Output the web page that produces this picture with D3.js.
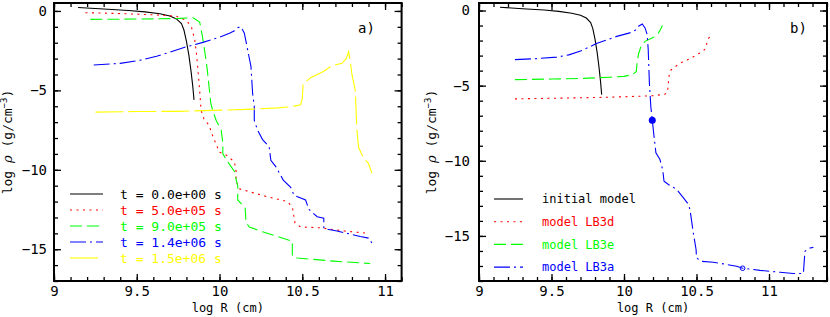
<!DOCTYPE html>
<html>
<head>
<meta charset="utf-8">
<script src="https://cdn.jsdelivr.net/npm/d3@7"></script>
<style>
  body { margin: 0; background: #fff; }
  svg { display: block; font-family: 'DejaVu Sans Mono', monospace; }
</style>
</head>
<body>
<div class="container"></div>
<script>
// panel a) density profiles at several times: [log R, log rho]
const aT0 = [[9.145,0.22],[9.3,0.12],[9.45,0.03],[9.55,-0.06],[9.64,-0.18],[9.70,-0.32],[9.74,-0.5],[9.77,-0.8],[9.785,-1.2],[9.80,-1.9],[9.815,-2.8],[9.828,-3.8],[9.838,-4.7],[9.846,-5.6]];
const aT1 = [[9.19,-0.11],[9.35,-0.15],[9.5,-0.2],[9.65,-0.27],[9.74,-0.33],[9.8,-0.6],[9.83,-1.0],[9.85,-1.8],[9.862,-2.8],[9.872,-4.0],[9.88,-5.0],[9.886,-5.9],[9.89,-6.3],[9.906,-6.8],[9.937,-7.2],[9.96,-7.9],[10.0,-8.9],[10.04,-9.07],[10.09,-9.5],[10.1,-10.1],[10.1,-10.7],[10.12,-11.2],[10.29,-11.7],[10.41,-12.0],[10.44,-12.35],[10.456,-13.35],[10.49,-13.6],[10.61,-13.65],[10.75,-13.85],[10.9,-14.0]];
const aT2 = [[9.22,-0.53],[9.4,-0.52],[9.6,-0.5],[9.76,-0.47],[9.84,-0.43],[9.88,-0.7],[9.895,-1.5],[9.91,-2.5],[9.925,-3.6],[9.935,-4.6],[9.947,-5.8],[9.96,-6.3],[9.98,-6.9],[10.01,-7.5],[10.02,-8.3],[10.02,-9.0],[10.05,-9.5],[10.09,-10.1],[10.1,-10.6],[10.11,-11.0],[10.11,-11.9],[10.155,-12.4],[10.16,-13.3],[10.18,-13.6],[10.26,-13.9],[10.44,-14.5],[10.44,-15.45],[10.47,-15.55],[10.69,-15.75],[10.91,-15.9]];
const aT3 = [[9.24,-3.4],[9.4,-3.3],[9.52,-3.1],[9.62,-2.85],[9.7,-2.6],[9.8,-2.25],[9.9,-1.98],[10.0,-1.65],[10.06,-1.4],[10.09,-1.25],[10.11,-1.05],[10.13,-1.0],[10.15,-1.4],[10.17,-2.46],[10.19,-3.5],[10.2,-5.2],[10.21,-6.0],[10.21,-6.9],[10.23,-7.5],[10.26,-8.1],[10.3,-8.55],[10.31,-9.4],[10.34,-9.8],[10.385,-10.65],[10.43,-11.1],[10.45,-11.6],[10.52,-11.9],[10.54,-12.5],[10.59,-12.95],[10.63,-13.05],[10.63,-13.7],[10.71,-13.85],[10.85,-14.2],[10.9,-14.3],[10.92,-14.6]];
const aT4 = [[9.25,-6.37],[9.5,-6.33],[9.76,-6.32],[9.96,-6.26],[10.2,-6.18],[10.35,-6.1],[10.44,-6.02],[10.49,-5.9],[10.5,-5.5],[10.505,-4.6],[10.55,-4.2],[10.625,-3.83],[10.68,-3.45],[10.74,-3.3],[10.765,-3.0],[10.78,-2.57],[10.79,-3.2],[10.8,-4.0],[10.82,-5.0],[10.83,-7.5],[10.84,-8.6],[10.87,-9.25],[10.9,-9.6],[10.92,-10.2]];
const aLabels = ['t = 0.0e+00 s', 't = 5.0e+05 s', 't = 9.0e+05 s', 't = 1.4e+06 s', 't = 1.5e+06 s'];

// panel b) models
const bInit = aT0;
const bLB3d = [[9.248,-5.88],[9.5,-5.84],[9.75,-5.8],[9.9,-5.77],[10.09,-5.71],[10.2,-5.67],[10.28,-5.58],[10.3,-5.45],[10.31,-4.4],[10.32,-4.0],[10.34,-3.82],[10.41,-3.38],[10.46,-3.2],[10.5,-2.93],[10.54,-2.75],[10.56,-2.55],[10.58,-1.9],[10.593,-1.72]];
const bLB3e = [[9.248,-4.6],[9.5,-4.56],[9.7,-4.52],[9.9,-4.44],[10.0,-4.38],[10.06,-4.26],[10.085,-4.05],[10.09,-3.5],[10.1,-2.9],[10.115,-2.45],[10.145,-2.05],[10.2,-1.8],[10.237,-1.5],[10.255,-1.2],[10.265,-1.0]];
const bLB3a = [[9.248,-3.27],[9.4,-3.2],[9.536,-3.1],[9.62,-2.95],[9.7,-2.7],[9.81,-2.2],[9.95,-1.72],[10.04,-1.49],[10.08,-1.3],[10.1,-1.05],[10.126,-0.9],[10.145,-1.16],[10.16,-1.6],[10.167,-2.6],[10.175,-4.8],[10.185,-6.4],[10.195,-7.3],[10.207,-8.37],[10.22,-9.47],[10.248,-9.92],[10.267,-10.6],[10.276,-11.36],[10.306,-11.58],[10.363,-11.9],[10.41,-12.47],[10.444,-12.9],[10.455,-13.24],[10.478,-14.8],[10.497,-15.9],[10.5,-16.46],[10.535,-16.69],[10.616,-16.75],[10.685,-16.86],[10.777,-17.02],[10.818,-17.15],[10.938,-17.29],[11.076,-17.42],[11.168,-17.5],[11.237,-17.5],[11.248,-16.02],[11.283,-15.8],[11.306,-15.76]];
const bMarkFilled = [10.195, -7.3];
const bMarkOpen = [10.818, -17.15];
const bLabels = ['initial model', 'model LB3d', 'model LB3e', 'model LB3a'];

const xMajor = [9, 9.5, 10, 10.5, 11];
const yMajor = [0, -5, -10, -15];

const w = 830;
const h = 317;

const colors = ['#000000', '#ff0000', '#00ff00', '#0000ff', '#ffff00'];
const dashes = [null, '2,4.5', '12,5', '16,4,2,4', '28,5'];

const svg = d3
  .select('.container')
  .append('svg')
  .attr('width', w)
  .attr('height', h);

const drawPanel = (cfg) => {
  const x = d3.scaleLinear().domain(cfg.xDomain).range([cfg.left, cfg.right]);
  const y = d3.scaleLinear().domain(cfg.yDomain).range([cfg.bottom, cfg.top]);
  const g = svg.append('g');

  const clipId = 'clip-' + cfg.name;
  g.append('clipPath')
    .attr('id', clipId)
    .append('rect')
    .attr('x', cfg.left)
    .attr('y', cfg.top)
    .attr('width', cfg.right - cfg.left)
    .attr('height', cfg.bottom - cfg.top);

  const xMinor = d3.range(cfg.xDomain[0], cfg.xDomain[1] + 1e-9, 0.1).map((v) => +v.toFixed(1));
  const yMinor = d3.range(Math.ceil(cfg.yDomain[0]), cfg.yDomain[1] + 1e-9, 1);

  // minor ticks on all four sides (inward)
  const tickFmt = () => '';
  g.append('g')
    .attr('transform', 'translate(0,' + cfg.bottom + ')')
    .call(d3.axisBottom(x).tickValues(xMinor).tickSize(-4).tickFormat(tickFmt));
  g.append('g')
    .attr('transform', 'translate(0,' + cfg.top + ')')
    .call(d3.axisTop(x).tickValues(xMinor).tickSize(-4).tickFormat(tickFmt));
  g.append('g')
    .attr('transform', 'translate(' + cfg.left + ',0)')
    .call(d3.axisLeft(y).tickValues(yMinor).tickSize(-4).tickFormat(tickFmt));
  g.append('g')
    .attr('transform', 'translate(' + cfg.right + ',0)')
    .call(d3.axisRight(y).tickValues(yMinor).tickSize(-4).tickFormat(tickFmt));

  // major ticks with labels
  g.append('g')
    .attr('class', 'major')
    .attr('transform', 'translate(0,' + cfg.bottom + ')')
    .call(d3.axisBottom(x).tickValues(xMajor).tickSize(-7).tickPadding(5).tickFormat((d) => String(d)));
  g.append('g')
    .attr('transform', 'translate(0,' + cfg.top + ')')
    .call(d3.axisTop(x).tickValues(xMajor).tickSize(-7).tickFormat(tickFmt));
  g.append('g')
    .attr('class', 'major')
    .attr('transform', 'translate(' + cfg.left + ',0)')
    .call(d3.axisLeft(y).tickValues(yMajor).tickSize(-7).tickPadding(cfg.yPad).tickFormat((d) => String(d).replace('-', '\u2212')));
  g.append('g')
    .attr('transform', 'translate(' + cfg.right + ',0)')
    .call(d3.axisRight(y).tickValues(yMajor).tickSize(-7).tickFormat(tickFmt));

  g.selectAll('.domain').remove();
  g.selectAll('.tick line').attr('stroke', '#000').attr('stroke-width', 1.3);
  g.selectAll('.major text')
    .attr('fill', '#000')
    .style('font-family', "'DejaVu Sans Mono', monospace")
    .style('font-size', '14px');

  const line = d3
    .line()
    .x((d) => x(d[0]))
    .y((d) => y(d[1]));

  const plot = g.append('g').attr('clip-path', 'url(#' + clipId + ')');
  cfg.series.forEach((s) => {
    plot
      .append('path')
      .datum(s.data)
      .attr('fill', 'none')
      .attr('stroke', colors[s.style])
      .attr('stroke-width', 1.1)
      .attr('stroke-dasharray', dashes[s.style])
      .attr('d', line);
  });

  if (cfg.markers) {
    plot
      .append('circle')
      .attr('cx', x(cfg.markers.filled[0]))
      .attr('cy', y(cfg.markers.filled[1]))
      .attr('r', 3.5)
      .attr('fill', '#0000ff');
    plot
      .append('circle')
      .attr('cx', x(cfg.markers.open[0]))
      .attr('cy', y(cfg.markers.open[1]))
      .attr('r', 2.3)
      .attr('fill', 'none')
      .attr('stroke', '#0000ff')
      .attr('stroke-width', 1);
  }

  // frame
  g.append('rect')
    .attr('x', cfg.left)
    .attr('y', cfg.top)
    .attr('width', cfg.right - cfg.left)
    .attr('height', cfg.bottom - cfg.top)
    .attr('fill', 'none')
    .attr('stroke', '#000')
    .attr('stroke-width', 2);

  // legend
  cfg.series.forEach((s, i) => {
    const ly = cfg.legend.y0 + i * cfg.legend.dy;
    g.append('line')
      .attr('x1', cfg.legend.x1)
      .attr('x2', cfg.legend.x2)
      .attr('y1', ly)
      .attr('y2', ly)
      .attr('stroke', colors[s.style])
      .attr('stroke-width', 1.1)
      .attr('stroke-dasharray', dashes[s.style]);
    g.append('text')
      .attr('x', cfg.legend.tx)
      .attr('y', ly)
      .attr('dy', '0.35em')
      .style('font-size', cfg.legend.size)
      .style('white-space', 'pre')
      .attr('fill', colors[s.style])
      .text(cfg.labels[i]);
  });

  // panel tag
  g.append('text')
    .attr('x', cfg.tag.x)
    .attr('y', 33)
    .style('font-size', '14px')
    .text(cfg.tag.text);

  // axis titles
  g.append('text')
    .attr('x', (cfg.left + cfg.right) / 2)
    .attr('y', 312)
    .attr('text-anchor', 'middle')
    .style('font-size', '12px')
    .text('log R (cm)');

  const yt = g
    .append('text')
    .attr('transform', 'translate(' + cfg.yTitleX + ',' + (cfg.top + cfg.bottom) / 2 + ') rotate(-90)')
    .attr('text-anchor', 'middle')
    .style('font-size', '13px');
  yt.append('tspan').text('log ');
  yt.append('tspan').style('font-family', "'DejaVu Serif', serif").style('font-style', 'italic').text('\u03c1');
  yt.append('tspan').text(' (g/cm');
  yt.append('tspan').attr('dy', -5).style('font-size', '9px').text('\u22123');
  yt.append('tspan').attr('dy', 5).text(')');
};

drawPanel({
  name: 'a',
  xDomain: [9, 11.1],
  yDomain: [-17, 0.5],
  left: 54,
  right: 401.6,
  top: 3,
  bottom: 281,
  yPad: 7,
  yTitleX: 12,
  series: [
    { data: aT0, style: 0 },
    { data: aT1, style: 1 },
    { data: aT2, style: 2 },
    { data: aT3, style: 3 },
    { data: aT4, style: 4 }
  ],
  labels: aLabels,
  legend: { x1: 70, x2: 103, tx: 120, y0: 194, dy: 16, size: '13px' },
  tag: { x: 358, text: 'a)' }
});

drawPanel({
  name: 'b',
  xDomain: [9, 11.4],
  yDomain: [-18, 0.5],
  left: 479,
  right: 827,
  top: 3,
  bottom: 281,
  yPad: 9,
  yTitleX: 436,
  series: [
    { data: bInit, style: 0 },
    { data: bLB3d, style: 1 },
    { data: bLB3e, style: 2 },
    { data: bLB3a, style: 3 }
  ],
  labels: bLabels,
  legend: { x1: 494, x2: 523, tx: 542, y0: 199, dy: 22.7, size: '12px' },
  markers: { filled: bMarkFilled, open: bMarkOpen },
  tag: { x: 790, text: 'b)' }
});
</script>
</body>
</html>
